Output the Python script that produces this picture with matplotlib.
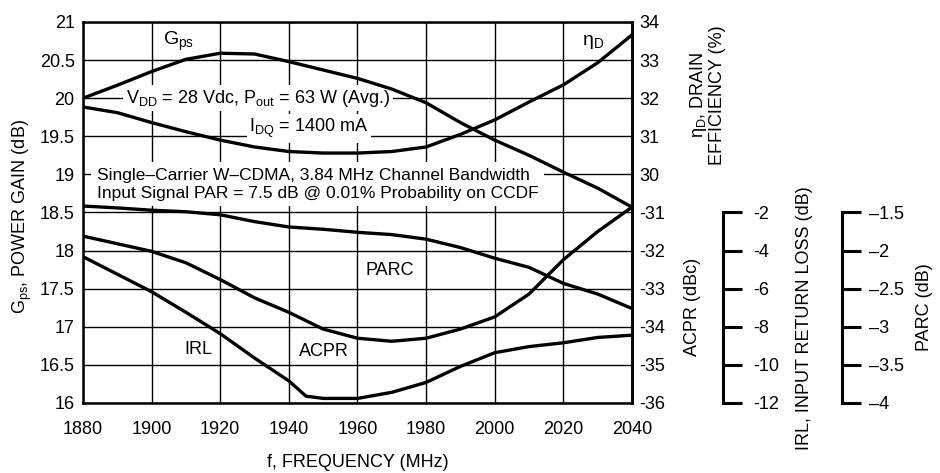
import numpy as np
import matplotlib
matplotlib.use("Agg")
import matplotlib.pyplot as plt
from matplotlib import font_manager

# pick a narrow sans if it is there
names = {f.name for f in font_manager.fontManager.ttflist}
FONT = "Liberation Sans Narrow" if "Liberation Sans Narrow" in names else "Liberation Sans"
plt.rcParams["font.family"] = [FONT, "DejaVu Sans"]
plt.rcParams["mathtext.fontset"] = "custom"
plt.rcParams["mathtext.rm"] = FONT
plt.rcParams["mathtext.it"] = FONT + ":italic"
plt.rcParams["font.size"] = 13

# ---- data ----
freq = [1880, 1890, 1900, 1910, 1920, 1930, 1940, 1950, 1960,
        1970, 1980, 1990, 2000, 2010, 2020, 2030, 2040]
gps = [20.00, 20.17, 20.35, 20.51, 20.59, 20.58, 20.48, 20.37, 20.26,
       20.12, 19.94, 19.68, 19.45, 19.25, 19.03, 18.82, 18.57]
eff = [31.77, 31.62, 31.36, 31.12, 30.90, 30.72, 30.60, 30.56, 30.56,
       30.60, 30.72, 31.05, 31.43, 31.90, 32.35, 32.93, 33.66]
parc = [-1.415, -1.44, -1.47, -1.49, -1.53, -1.62, -1.69, -1.72, -1.76,
        -1.79, -1.85, -1.96, -2.10, -2.22, -2.43, -2.57, -2.76]
acpr = [-31.62, -31.82, -32.02, -32.32, -32.76, -33.24, -33.62, -34.06, -34.30,
        -34.38, -34.30, -34.06, -33.74, -33.14, -32.24, -31.50, -30.86]
irl_freq = [1880, 1890, 1900, 1910, 1920, 1930, 1940, 1945, 1950, 1960,
            1970, 1980, 1990, 2000, 2010, 2020, 2030, 2040]
irl = [-4.32, -5.24, -6.16, -7.24, -8.36, -9.64, -10.84, -11.64, -11.76, -11.76,
       -11.44, -10.92, -10.08, -9.36, -9.04, -8.84, -8.56, -8.44]

x_ticks = list(range(1880, 2041, 20))
gps_ticks = [16, 16.5, 17, 17.5, 18, 18.5, 19, 19.5, 20, 20.5, 21]
eff_ticks = [30, 31, 32, 33, 34]
acpr_ticks = [-36, -35, -34, -33, -32, -31]
irl_ticks = [-12, -10, -8, -6, -4, -2]
parc_ticks = [-4, -3.5, -3, -2.5, -2, -1.5]

LW = 2.4
fig = plt.figure(figsize=(9.4, 4.73), dpi=100)
ax = fig.add_axes([0.0883, 0.148, 0.584, 0.8055])

ax.set_xlim(1880, 2040)
ax.set_ylim(16, 21)
ax.set_xticks(x_ticks)
ax.set_yticks(gps_ticks, [f"{v:g}" for v in gps_ticks])
ax.grid(True, color="black", lw=1.0, zorder=0)
ax.set_axisbelow(True)
ax.tick_params(length=0)
ax.tick_params(axis="x", pad=13)
ax.tick_params(axis="y", pad=6)
for s in ax.spines.values():
    s.set_linewidth(1.8)

ax.plot(freq, gps, color="black", lw=LW, zorder=3)

ax.set_xlabel("f, FREQUENCY (MHz)", va="center")
ax.xaxis.set_label_coords(0.5, -0.157)
ax.set_ylabel(r"$\mathrm{G}_{\mathrm{ps}}$, POWER GAIN (dB)", va="center")
ax.yaxis.set_label_coords(-0.111, 0.49)

# efficiency on the right (upper half)
ax_eff = ax.twinx()
ax_eff.set_ylim(24, 34)
ax_eff.set_yticks(eff_ticks, [str(v) for v in eff_ticks])
ax_eff.tick_params(length=0, pad=5)
ax_eff.plot(freq, eff, color="black", lw=LW)
for k in ["left", "top", "bottom"]:
    ax_eff.spines[k].set_visible(False)
ax_eff.spines["right"].set_linewidth(1.8)
ax_eff.set_ylabel("\u03b7$_{\\mathrm{D}}$, DRAIN\nEFFICIENCY (%)", rotation=90,
                  va="center", ha="center", multialignment="center", linespacing=1.0)
ax_eff.yaxis.set_label_coords(1.1366, 0.808)

# ACPR on the right (lower half)
ax_acpr = ax.twinx()
ax_acpr.set_ylim(-36, -26)
ax_acpr.set_yticks(acpr_ticks, [str(v) for v in acpr_ticks])
ax_acpr.tick_params(length=0, pad=5)
ax_acpr.plot(freq, acpr, color="black", lw=LW)
for k in ["left", "top", "bottom", "right"]:
    ax_acpr.spines[k].set_visible(False)
ax_acpr.set_ylabel("ACPR (dBc)", rotation=90, va="center", ha="center")
ax_acpr.yaxis.set_label_coords(1.111, 0.252)

# IRL, own short axis
ax_irl = ax.twinx()
ax_irl.set_ylim(-12, 8)
ax_irl.plot(irl_freq, irl, color="black", lw=LW)
for k in ["left", "top", "bottom"]:
    ax_irl.spines[k].set_visible(False)
ax_irl.spines["right"].set_position(("axes", 1.1658))
ax_irl.spines["right"].set_bounds(-12, -2)
ax_irl.spines["right"].set_linewidth(2.2)
ax_irl.set_yticks(irl_ticks, [str(v) for v in irl_ticks])
ax_irl.tick_params(direction="out", length=13.7, width=2.2, pad=8)
ax_irl.set_ylabel("IRL, INPUT RETURN LOSS (dB)", rotation=90, va="center", ha="center")
ax_irl.yaxis.set_label_coords(1.315, 0.223)

# PARC, own short axis
ax_parc = ax.twinx()
ax_parc.set_ylim(-4, 1)
ax_parc.plot(freq, parc, color="black", lw=LW)
for k in ["left", "top", "bottom"]:
    ax_parc.spines[k].set_visible(False)
ax_parc.spines["right"].set_position(("axes", 1.3825))
ax_parc.spines["right"].set_bounds(-4, -1.5)
ax_parc.spines["right"].set_linewidth(2.2)
ax_parc.set_yticks(parc_ticks, [f"{v:g}".replace("-", "\u2013") for v in parc_ticks])
ax_parc.tick_params(direction="out", length=13.7, width=2.2, pad=6)
ax_parc.set_ylabel("PARC (dB)", rotation=90, va="center", ha="center")
ax_parc.yaxis.set_label_coords(1.533, 0.252)

# text notes, white boxes knock out the grid
box = dict(facecolor="white", edgecolor="none", pad=2)
ax.text(1892.5, 20.0, r"$\mathrm{V}_{\mathrm{DD}}$ = 28 Vdc, $\mathrm{P}_{\mathrm{out}}$ = 63 W (Avg.)",
        va="center", ha="left", bbox=box, zorder=2)
ax.text(1928.5, 19.6, r"$\mathrm{I}_{\mathrm{DQ}}$ = 1400 mA", va="center", ha="left",
        bbox=box, zorder=2)
ax.text(1884, 18.87, "Single\u2013Carrier W\u2013CDMA, 3.84 MHz Channel Bandwidth\n"
        "Input Signal PAR = 7.5 dB @ 0.01% Probability on CCDF",
        va="center", ha="left", linespacing=1.25, fontsize=12.5,
        bbox=dict(facecolor="white", edgecolor="none", pad=4), zorder=2)
ax.text(1903.3, 20.74, r"$\mathrm{G}_{\mathrm{ps}}$", va="center", ha="left", fontsize=14)
ax.text(2025.5, 20.74, "\u03b7$_{\\mathrm{D}}$", va="center", ha="left", fontsize=14)
ax.text(1969.5, 17.74, "PARC", va="center", ha="center")
ax.text(1913.5, 16.70, "IRL", va="center", ha="center")
ax.text(1950.3, 16.68, "ACPR", va="center", ha="center")

fig.savefig("out.png", dpi=100)
